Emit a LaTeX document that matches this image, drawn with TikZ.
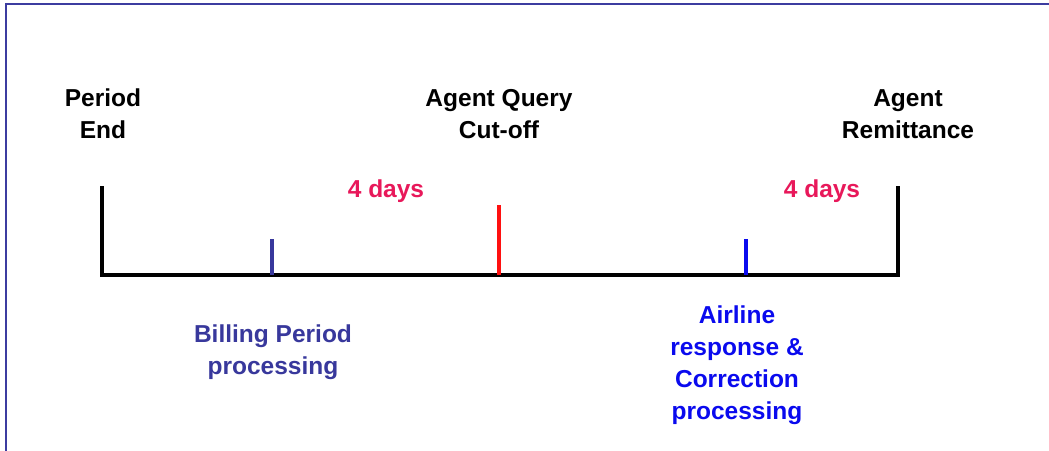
\documentclass[tikz,border=0pt]{standalone}
\usepackage{fontspec}
\setmainfont{Liberation Sans}
\definecolor{frameblue}{HTML}{3C3CA0}
\definecolor{billblue}{HTML}{38389C}
\definecolor{airblue}{HTML}{0A0AEE}
\definecolor{dayred}{HTML}{E8185A}
\definecolor{tickred}{HTML}{FF1010}
\begin{document}
\begin{tikzpicture}[x=1pt,y=-1pt,
  lbl/.style={font=\fontsize{24.5}{32}\selectfont\bfseries, align=center, inner sep=0pt},
  axis/.style={line width=3.6pt, black},
  tickmark/.style={line width=3.6pt}]
\useasboundingbox[fill=white] (0,0) rectangle (1049,450);
\draw[frameblue, line width=2.6pt] (6,452) -- (6,4) -- (1052,4);
% coordinates
\coordinate (L0) at (102,275);
\coordinate (Ltop) at (102,186);
\coordinate (R0) at (898,275);
\coordinate (Rtop) at (898,186);
\coordinate (B0) at (272,275);
\coordinate (Btop) at (272,239);
\coordinate (Q0) at (499,275);
\coordinate (Qtop) at (499,205);
\coordinate (A0) at (746,275);
\coordinate (Atop) at (746,239);
% timeline
\draw[axis, line join=miter] (Ltop) -- (L0) -- (R0) -- (Rtop);
\draw[tickmark, billblue] (B0) -- (Btop);
\draw[tickmark, tickred] (Q0) -- (Qtop);
\draw[tickmark, airblue] (A0) -- (Atop);
% labels
\node[lbl] (pe) at (103,114) {Period\\End};
\node[lbl] (aq) at (499,114) {Agent Query\\Cut-off};
\node[lbl] (ar) at (908,114) {Agent\\Remittance};
\node[lbl, dayred] (d1) at (386,191) {4 days};
\node[lbl, dayred] (d2) at (822,191) {4 days};
\node[lbl, billblue] (bp) at (273,352) {Billing Period\\processing};
\node[lbl, airblue] (al) at (737,365) {Airline\\response \&\\Correction\\processing};
\end{tikzpicture}
\end{document}
